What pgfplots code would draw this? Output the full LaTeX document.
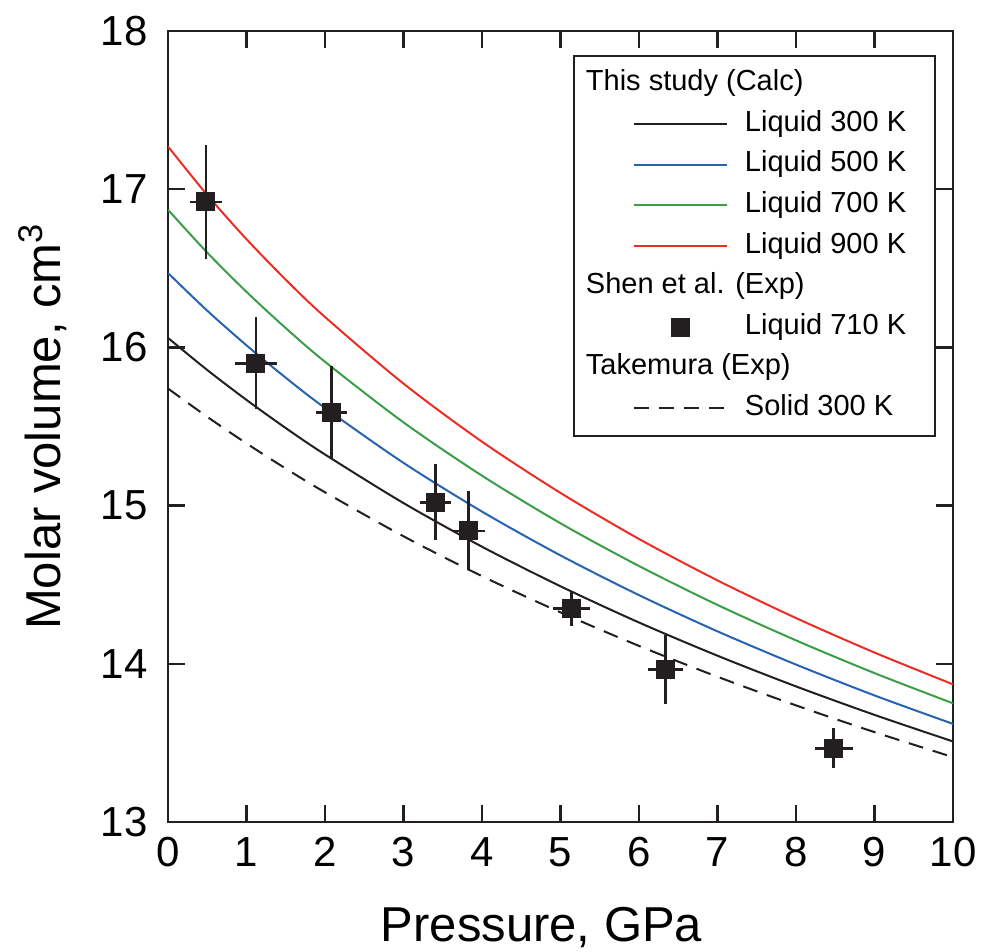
\documentclass[border=0pt]{standalone}
\usepackage{fontspec}
\setmainfont{Liberation Sans}
\usepackage{pgfplots}
\pgfplotsset{compat=1.18}
\usepackage{pgfplotstable}
\definecolor{cblack}{RGB}{35,31,32}
\definecolor{cblue}{RGB}{38,100,178}
\definecolor{cgreen}{RGB}{58,158,72}
\definecolor{cred}{RGB}{237,44,36}

\pgfplotstableread{
P V
0 16.060
0.5 15.857
1 15.668
1.5 15.490
2 15.323
3 15.016
4 14.740
5 14.490
6 14.261
7 14.051
8 13.857
9 13.677
10 13.509
}\liqA

\pgfplotstableread{
P V
0 16.470
0.5 16.232
1 16.013
1.5 15.808
2 15.617
3 15.270
4 14.962
5 14.685
6 14.434
7 14.205
8 13.995
9 13.800
10 13.620
}\liqB

\pgfplotstableread{
P V
0 16.870
0.5 16.599
1 16.351
1.5 16.122
2 15.909
3 15.526
4 15.189
5 14.888
6 14.618
7 14.372
8 14.148
9 13.941
10 13.750
}\liqC

\pgfplotstableread{
P V
0 17.270
0.5 16.963
1 16.684
1.5 16.428
2 16.192
3 15.771
4 15.404
5 15.080
6 14.789
7 14.527
8 14.289
9 14.071
10 13.870
}\liqD

\pgfplotstableread{
P V
0 15.740
0.5 15.561
1 15.393
1.5 15.234
2 15.084
3 14.806
4 14.554
5 14.325
6 14.113
7 13.918
8 13.737
9 13.568
10 13.410
}\solid

\pgfplotstableread{
P V eP eV
0.484 16.920 0.20 0.36
1.12 15.900 0.27 0.29
2.08 15.590 0.20 0.29
3.41 15.020 0.20 0.24
3.83 14.840 0.21 0.25
5.14 14.350 0.23 0.11
6.34 13.965 0.22 0.22
8.48 13.466 0.24 0.125
}\shen

\begin{document}
\begin{tikzpicture}
\begin{axis}[
  scale only axis,
  width=392.5pt, height=395.5pt,
  xmin=0, xmax=10, ymin=13, ymax=18,
  xtick={0,1,...,10}, ytick={13,14,...,18},
  /pgf/number format/assume math mode=true,
  ticklabel style={font=\fontsize{21}{25}\selectfont},
  yticklabel style={inner xsep=0pt, xshift=-10pt},
  xticklabel style={inner ysep=0pt, yshift=-7.5pt},
  major tick length=8.5pt,
  every tick/.style={line width=1.2pt, cblack},
  axis line style={line width=1.35pt, cblack},
  xlabel={Pressure, GPa},
  ylabel={Molar volume, cm$^{\mathrm{3}}$},
  label style={font=\fontsize{24.5}{29}\selectfont},
  xlabel style={at={(axis description cs:0.5,0)}, anchor=base, yshift=-60pt, xshift=-9.5pt},
  ylabel style={at={(axis description cs:-0.16,0.5)}, anchor=center},
  legend image code/.code={\path (0pt,0pt) (71pt,0pt); \draw[#1] (24.5pt,0pt) -- (71pt,0pt);},
  legend cell align=left,
  legend style={at={(1,1)}, anchor=north east, xshift=-8.5pt, yshift=-12pt,
    draw=cblack, line width=0.8pt, inner xsep=5pt, inner ysep=7pt,
    font=\fontsize{14.5}{17}\selectfont,
    nodes={inner sep=0pt, text height=10.5pt, text depth=3.2pt},
    column sep=8.5pt, row sep=6.6pt,
    cells={anchor=west}},
]
\addlegendimage{empty legend}
\addlegendentry{\hspace*{-79.5pt}This study (Calc)}
\addplot[cblack, line width=1pt, smooth] table {\liqA};
\addlegendentry{Liquid 300 K\hspace*{9.5pt}}
\addplot[cblue, line width=1pt, smooth] table {\liqB};
\addlegendentry{Liquid 500 K}
\addplot[cgreen, line width=1pt, smooth] table {\liqC};
\addlegendentry{Liquid 700 K}
\addplot[cred, line width=1pt, smooth] table {\liqD};
\addlegendentry{Liquid 900 K}
\addlegendimage{empty legend}
\addlegendentry{\hspace*{-79.5pt}Shen et al. (Exp)}
\addplot[only marks, mark=square*, mark size=4.5pt, cblack,
  mark options={fill=cblack, draw=cblack, line width=0pt},
  legend image code/.code={\path (0pt,0pt) (71pt,0pt);
    \draw[mark=square*, mark size=4.5pt, cblack, mark options={fill=cblack, draw=cblack, line width=0pt}] plot coordinates {(47.75pt,0pt)};},
  error bars/.cd, x dir=both, x explicit, y dir=both, y explicit,
  error mark=none, error bar style={line width=1.3pt, cblack}]
  table[x=P, y=V, x error=eP, y error=eV] {\shen};
\addlegendentry{Liquid 710 K}
\addlegendimage{empty legend}
\addlegendentry{\hspace*{-79.5pt}Takemura (Exp)}
\addplot[cblack, line width=1pt, dash pattern=on 7.5pt off 5pt, smooth] table {\solid};
\addlegendentry{Solid 300 K}
\end{axis}
\pgfresetboundingbox
\path ([xshift=-84pt,yshift=-65pt]current axis.south west) rectangle ([xshift=15.5pt,yshift=15.5pt]current axis.north east);
\end{tikzpicture}
\end{document}
